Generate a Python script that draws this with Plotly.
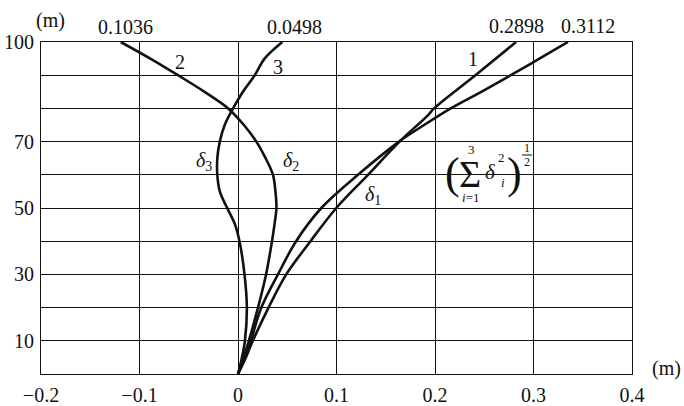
import plotly.graph_objects as go

# ---- data ----
delta1_y = [0, 5, 10, 20, 30, 40, 50, 60, 70, 78, 80, 90, 100]
delta1_x = [0, 0.008, 0.015, 0.031, 0.049, 0.0736, 0.0998, 0.132, 0.164, 0.193, 0.199, 0.241, 0.2823]

srss_y = [0, 5, 10, 20, 30, 40, 50, 60, 70, 75, 80, 85, 90, 95, 100]
srss_x = [0, 0.007, 0.013, 0.0237, 0.0406, 0.059, 0.0846, 0.1218, 0.1635, 0.189, 0.216, 0.247,
          0.277, 0.306, 0.335]

delta2_y = [0, 10, 20, 30, 40, 45, 50, 55, 60, 65, 70, 75, 80, 85, 90, 95, 100]
delta2_x = [0, 0.011, 0.0203, 0.0285, 0.0345, 0.037, 0.039, 0.038, 0.0355, 0.028, 0.0186, 0.006,
            -0.010, -0.034, -0.061, -0.089, -0.119]

delta3_y = [0, 5, 10, 20, 30, 40, 45, 50, 55, 60, 65, 70, 75, 80, 85, 90, 95, 100]
delta3_x = [0, 0.004, 0.007, 0.009, 0.0066, 0.0015, -0.003, -0.011, -0.0185, -0.021, -0.021,
            -0.0185, -0.0135, -0.005, 0.005, 0.017, 0.027, 0.045]

x_ticks = [-0.2, -0.1, 0, 0.1, 0.2, 0.3, 0.4]
x_ticktext = ["\u22120.2", "\u22120.1", "0", "0.1", "0.2", "0.3", "0.4"]
y_ticks = [0, 10, 20, 30, 40, 50, 60, 70, 80, 90, 100]
y_ticktext = ["", "10", "", "30", "", "50", "", "70", "", "", "100"]

top_values = ["0.1036", "0.0498", "0.2898", "0.3112"]

SERIF = "Liberation Serif, Times New Roman, serif"
INK = "#111111"
FS = 20

fig = go.Figure()
for xs, ys in [(delta1_x, delta1_y), (srss_x, srss_y), (delta2_x, delta2_y), (delta3_x, delta3_y)]:
    fig.add_trace(go.Scatter(x=xs, y=ys, mode="lines",
                             line=dict(color=INK, width=2.6, shape="spline", smoothing=1.0),
                             showlegend=False, hoverinfo="skip"))

L, R, T, B = 41, 632, 42, 374
W, H = 684, 406


def ann(px, py, text, size=FS, **kw):
    d = dict(x=(px - L) / (R - L), y=(B - py) / (B - T), xref="paper", yref="paper",
             text=text, showarrow=False, xanchor="center", yanchor="middle",
             borderpad=0, font=dict(family=SERIF, size=size, color=INK))
    d.update(kw)
    return d


annotations = [
    ann(50, 20, "(m)"),
    ann(666, 368, "(m)"),
    ann(125, 27, top_values[0]),
    ann(294, 27, top_values[1]),
    ann(516, 26, top_values[2]),
    ann(588, 26, top_values[3]),
    ann(180, 62, "2"),
    ann(278, 67, "3"),
    ann(473, 59, "1"),
    ann(204, 161, "<i>\u03b4</i><sub>3</sub>"),
    ann(291, 161, "<i>\u03b4</i><sub>2</sub>"),
    ann(373, 195, "<i>\u03b4</i><sub>1</sub>"),
    # ( sum_{i=1}^{3} delta_i^2 )^{1/2}
    ann(452, 173, "(", size=44),
    ann(470, 174, "\u03a3", size=38),
    ann(471, 149, "3", size=13),
    ann(470, 197, "<i>i</i>=1", size=13),
    ann(490, 172, "<i>\u03b4</i>", size=21),
    ann(501, 157, "2", size=13),
    ann(503, 183, "<i>i</i>", size=13),
    ann(514, 173, ")", size=44),
    ann(527, 148, "1", size=12),
    ann(527, 162, "2", size=12),
]

fig.update_layout(
    width=W, height=H,
    margin=dict(l=L, r=W - R, t=T, b=H - B, autoexpand=False),
    paper_bgcolor="white", plot_bgcolor="white",
    annotations=annotations,
    shapes=[dict(type="line", xref="paper", yref="paper",
                 x0=(522 - L) / (R - L), x1=(532 - L) / (R - L),
                 y0=(B - 155) / (B - T), y1=(B - 155) / (B - T),
                 line=dict(color=INK, width=1))],
    xaxis=dict(range=[-0.2, 0.4], tickvals=x_ticks, ticktext=x_ticktext,
               showgrid=True, gridcolor=INK, gridwidth=1.2, zeroline=False,
               showline=True, linecolor=INK, linewidth=1.2, mirror=True,
               ticks="", ticklabelstandoff=3, automargin=False,
               tickfont=dict(family=SERIF, size=FS, color=INK), fixedrange=True),
    yaxis=dict(range=[0, 100], tickvals=y_ticks, ticktext=y_ticktext,
               showgrid=True, gridcolor=INK, gridwidth=1.2, zeroline=False,
               showline=True, linecolor=INK, linewidth=1.2, mirror=True,
               ticks="", ticklabelstandoff=2, automargin=False,
               tickfont=dict(family=SERIF, size=FS, color=INK), fixedrange=True),
)

fig.write_html("out.html", config={"displayModeBar": False},
               post_script="document.body.style.margin='0';document.body.style.overflow='hidden';")
